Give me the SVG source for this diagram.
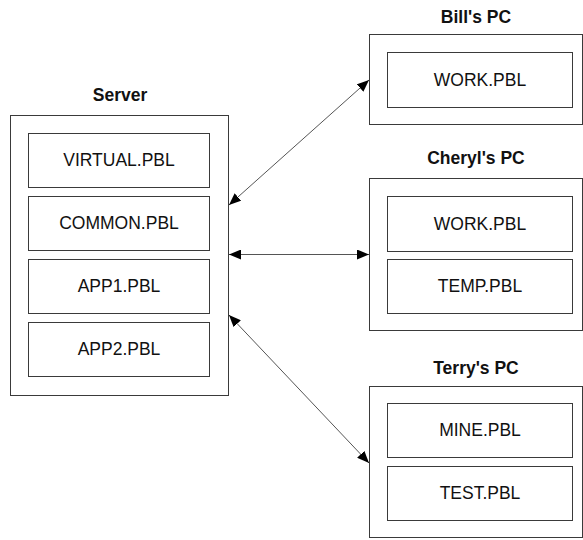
<svg xmlns="http://www.w3.org/2000/svg" width="583" height="540" viewBox="0 0 583 540">
  <style>
    .box { fill: none; stroke: #3a3a3a; stroke-width: 1; }
    .lbl { font-family: "Liberation Sans", Arial, sans-serif; font-size: 17.5px; fill: #111; text-anchor: middle; }
    .ttl { font-family: "Liberation Sans", Arial, sans-serif; font-size: 17.5px; font-weight: bold; fill: #111; text-anchor: middle; }
    .link { stroke: #555; stroke-width: 1; fill: none; marker-start: url(#ah); marker-end: url(#ah); }
  </style>
  <defs>
    <marker id="ah" viewBox="0 0 12 10" refX="12" refY="5" markerWidth="12" markerHeight="10" markerUnits="userSpaceOnUse" orient="auto-start-reverse">
      <path d="M0,0 L12,5 L0,10 Z" fill="#000"/>
    </marker>
  </defs>
  <rect width="583" height="540" fill="#fff"/>

  <g id="server">
    <text class="ttl" x="120" y="101">Server</text>
    <rect class="box" x="10.5" y="115.5" width="218" height="280"/>
    <rect class="box" x="28.5" y="133.5" width="181" height="54"/>
    <text class="lbl" x="119" y="166">VIRTUAL.PBL</text>
    <rect class="box" x="28.5" y="196.5" width="181" height="54"/>
    <text class="lbl" x="119" y="229">COMMON.PBL</text>
    <rect class="box" x="28.5" y="259.5" width="181" height="54"/>
    <text class="lbl" x="119" y="292">APP1.PBL</text>
    <rect class="box" x="28.5" y="322.5" width="181" height="54"/>
    <text class="lbl" x="119" y="355">APP2.PBL</text>
  </g>

  <g id="bills-pc">
    <text class="ttl" x="476" y="23">Bill's PC</text>
    <rect class="box" x="369.5" y="34.5" width="213" height="90"/>
    <rect class="box" x="387.5" y="52.5" width="185" height="55"/>
    <text class="lbl" x="480" y="86">WORK.PBL</text>
  </g>

  <g id="cheryls-pc">
    <text class="ttl" x="476" y="164">Cheryl's PC</text>
    <rect class="box" x="369.5" y="178.5" width="213" height="152"/>
    <rect class="box" x="387.5" y="196.5" width="185" height="55"/>
    <text class="lbl" x="480" y="230">WORK.PBL</text>
    <rect class="box" x="387.5" y="259.5" width="185" height="54"/>
    <text class="lbl" x="480" y="292">TEMP.PBL</text>
  </g>

  <g id="terrys-pc">
    <text class="ttl" x="476" y="374">Terry's PC</text>
    <rect class="box" x="369.5" y="386.5" width="213" height="151"/>
    <rect class="box" x="387.5" y="403.5" width="185" height="54"/>
    <text class="lbl" x="480" y="436">MINE.PBL</text>
    <rect class="box" x="387.5" y="466.5" width="185" height="54"/>
    <text class="lbl" x="480" y="499">TEST.PBL</text>
  </g>

  <g id="connectors">
    <line class="link" x1="229" y1="205" x2="369" y2="80"/>
    <line class="link" x1="229" y1="254.5" x2="369" y2="254.5"/>
    <line class="link" x1="229" y1="315" x2="369" y2="463"/>
  </g>
</svg>
